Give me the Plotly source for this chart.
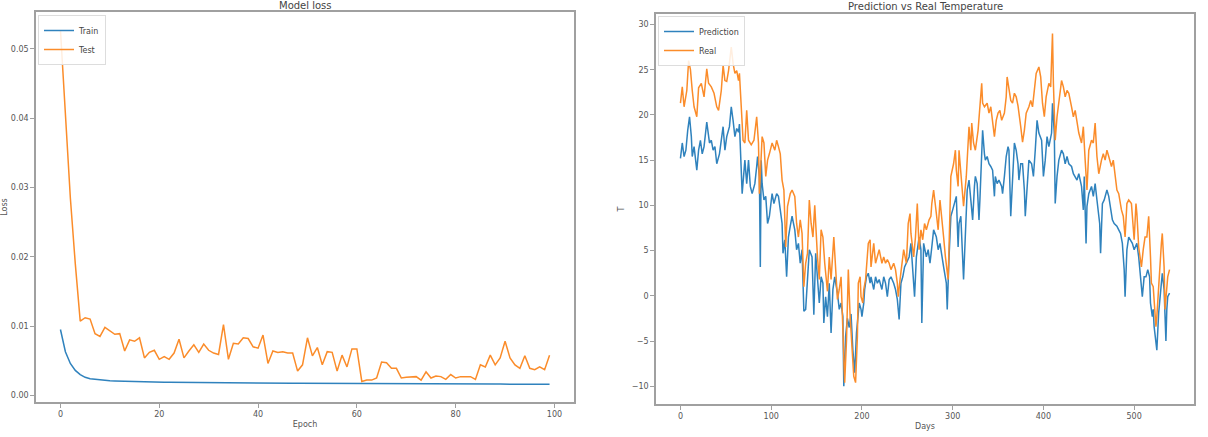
import plotly.graph_objects as go

# ---------------- data: left panel (Model loss) ----------------
epochs = list(range(100))
train_loss = [
    0.0095, 0.0063, 0.0046, 0.0036, 0.0030, 0.0026, 0.0024, 0.0023, 0.0022, 0.00215,
    0.0021, 0.00208, 0.00205, 0.00203, 0.00200, 0.00198, 0.00196, 0.00195, 0.00193, 0.00192,
    0.00190, 0.00189, 0.00188, 0.00187, 0.00186, 0.00185, 0.00184, 0.00184, 0.00183, 0.00182,
    0.00181, 0.00181, 0.00180, 0.00180, 0.00179, 0.00179, 0.00178, 0.00178, 0.00177, 0.00177,
    0.00176, 0.00176, 0.00175, 0.00175, 0.00175, 0.00174, 0.00174, 0.00173, 0.00173, 0.00173,
    0.00172, 0.00172, 0.00172, 0.00171, 0.00171, 0.00171, 0.00170, 0.00170, 0.00170, 0.00169,
    0.00169, 0.00169, 0.00168, 0.00168, 0.00168, 0.00168, 0.00167, 0.00167, 0.00167, 0.00167,
    0.00166, 0.00166, 0.00166, 0.00166, 0.00165, 0.00165, 0.00165, 0.00165, 0.00165, 0.00164,
    0.00164, 0.00164, 0.00164, 0.00164, 0.00163, 0.00163, 0.00163, 0.00163, 0.00163, 0.00162,
    0.00162, 0.00162, 0.00162, 0.00162, 0.00162, 0.00161, 0.00161, 0.00161, 0.00161, 0.00161,
]
test_loss = [
    0.0527, 0.0405, 0.0285, 0.0190, 0.0107, 0.0112, 0.0110, 0.0089, 0.0085, 0.0098,
    0.0093, 0.0088, 0.0089, 0.0064, 0.0080, 0.0078, 0.0083, 0.0054, 0.0062, 0.0065,
    0.0052, 0.0056, 0.0052, 0.0061, 0.0081, 0.0054, 0.0064, 0.0073, 0.0062, 0.0074,
    0.0065, 0.0061, 0.0059, 0.0102, 0.0052, 0.0075, 0.0074, 0.0083, 0.0082, 0.0070,
    0.0068, 0.0087, 0.0046, 0.0064, 0.0062, 0.0063, 0.0061, 0.0061, 0.0035, 0.0044,
    0.0083, 0.0057, 0.0069, 0.0044, 0.0063, 0.0062, 0.0035, 0.0058, 0.0041, 0.0067,
    0.0067, 0.0020, 0.0022, 0.0022, 0.0025, 0.0048, 0.0047, 0.0039, 0.0039, 0.0025,
    0.0026, 0.0027, 0.0027, 0.0022, 0.0034, 0.0025, 0.0028, 0.0027, 0.0023, 0.0030,
    0.0025, 0.0027, 0.0027, 0.0027, 0.0023, 0.0044, 0.0041, 0.0058, 0.0044, 0.0054,
    0.0078, 0.0054, 0.0044, 0.0039, 0.0057, 0.0039, 0.0037, 0.0041, 0.0037, 0.0058,
]
loss_xticks = [0, 20, 40, 60, 80, 100]
loss_yticks = [0.00, 0.01, 0.02, 0.03, 0.04, 0.05]

# ---------------- data: right panel (Prediction vs Real Temperature) ----------------
real_points = [
    (0, 21.3), (2, 23.1), (4, 20.9), (7, 22.7), (9, 26.0), (11, 25.0), (13, 22.7), (15, 20.9),
    (18, 19.8), (20, 23.0), (23, 23.5), (26, 22.0), (29, 25.1), (31, 23.5), (34, 23.1), (37, 22.4),
    (40, 20.9), (42, 20.5), (45, 22.7), (47, 25.5), (49, 23.8), (51, 23.7), (53, 24.9), (56, 27.5),
    (58, 25.7), (60, 24.6), (62, 24.9), (64, 23.8), (65, 24.6), (67, 20.2), (69, 17.2), (71, 16.9),
    (73, 20.5), (75, 17.2), (78, 16.7), (81, 17.2), (84, 19.8), (86, 16.9), (87, 11.3), (90, 17.6),
    (92, 16.9), (94, 13.2), (96, 15.0), (98, 15.7), (101, 16.9), (104, 16.1), (106, 17.2), (108, 16.5),
    (110, 15.7), (112, 12.8), (114, 11.7), (116, 5.4), (118, 9.9), (121, 11.3), (123, 11.7), (126, 11.0),
    (128, 8.0), (130, 6.5), (132, 8.4), (134, 6.9), (136, 1.0), (138, 3.6), (140, 4.7), (142, 10.6),
    (144, 8.0), (146, 6.5), (148, 10.0), (151, 4.3), (153, 1.8), (155, 7.3), (157, 6.5), (159, 3.6),
    (162, 0.5), (164, 4.3), (166, 1.8), (169, 6.5), (171, 3.2), (173, -0.4), (175, 0.7), (177, 2.1),
    (179, -3.8), (181, -9.6), (183, -4.9), (185, 2.9), (187, -2.3), (189, -6.0), (191, -8.9), (193, -9.6),
    (195, -4.5), (196, 1.4), (198, 2.1), (199, -0.1), (201, -0.8), (202, 0.7), (204, 1.8), (207, 5.8),
    (209, 6.2), (210, 3.2), (213, 5.8), (215, 3.6), (217, 4.3), (219, 5.1), (222, 3.6), (224, 4.3),
    (226, 3.6), (228, 4.0), (230, 3.6), (232, 2.9), (235, 3.6), (237, 2.9), (239, 1.4), (240, -0.1),
    (242, 1.8), (244, 3.6), (246, 5.1), (249, 3.6), (251, 8.0), (253, 9.1), (254, 6.9), (257, 4.3),
    (259, 6.5), (261, 10.2), (263, 5.1), (265, 7.3), (267, 6.2), (269, 8.0), (271, 7.3), (274, 8.4),
    (276, 8.8), (277, 10.2), (279, 11.7), (282, 9.1), (284, 7.3), (286, 10.6), (288, 8.8), (290, 6.5),
    (292, 4.3), (295, 1.8), (296, 5.4), (298, 13.2), (301, 14.6), (303, 16.1), (304, 13.9), (306, 12.1),
    (307, 16.1), (309, 13.2), (310, 11.7), (312, 9.9), (315, 13.2), (317, 16.1), (318, 18.7), (320, 16.1),
    (321, 19.1), (323, 16.9), (325, 16.1), (328, 18.3), (330, 20.5), (332, 23.5), (333, 21.3), (335, 20.9),
    (338, 21.3), (340, 20.2), (342, 20.9), (344, 19.1), (346, 17.6), (348, 19.4), (350, 20.2), (352, 20.5),
    (354, 19.4), (357, 20.2), (359, 22.0), (360, 24.2), (362, 22.7), (364, 21.6), (366, 21.3), (368, 22.4),
    (370, 22.0), (372, 21.0), (375, 18.7), (377, 17.0), (379, 18.3), (381, 20.2), (384, 20.9), (386, 21.6),
    (388, 20.9), (390, 22.7), (392, 24.6), (395, 25.3), (397, 24.2), (399, 21.3), (401, 19.8), (403, 22.0),
    (406, 23.5), (408, 23.1), (409, 27.2), (410, 29.0), (411, 23.5), (413, 17.2), (415, 19.8), (417, 21.6),
    (420, 23.8), (422, 23.1), (424, 22.0), (426, 22.7), (428, 22.4), (431, 20.9), (433, 19.8), (435, 20.5),
    (437, 19.4), (439, 18.0), (442, 16.9), (444, 18.7), (446, 15.0), (448, 11.7), (450, 16.1), (453, 17.2),
    (455, 16.9), (457, 19.1), (459, 15.4), (461, 13.5), (464, 15.0), (466, 15.7), (468, 15.0), (470, 16.1),
    (472, 15.4), (475, 14.3), (477, 15.0), (479, 13.2), (481, 11.7), (483, 11.3), (486, 9.5), (488, 8.8),
    (490, 6.5), (492, 10.2), (494, 10.6), (497, 10.2), (499, 8.0), (500, 6.2), (502, 10.2), (503, 9.1),
    (505, 5.4), (508, 3.2), (510, 5.1), (512, 6.5), (514, 6.5), (516, 8.8), (518, 4.3), (519, 1.4),
    (521, 1.0), (522, -0.8), (524, -3.4), (525, -2.3), (527, 1.4), (528, 3.2), (530, 5.8), (531, 6.9),
    (533, 3.2), (534, -1.5), (536, 0.7), (537, 2.1), (539, 2.9),
]
pred_points = [
    (0, 15.2), (2, 16.9), (4, 15.4), (6, 16.1), (8, 18.3), (10, 19.8), (12, 17.6), (13, 15.4),
    (15, 16.5), (18, 13.9), (20, 16.1), (22, 17.2), (24, 15.7), (26, 16.5), (29, 19.2), (32, 16.9),
    (34, 17.2), (36, 16.1), (38, 16.5), (40, 14.6), (43, 15.7), (45, 17.2), (47, 18.7), (49, 16.1),
    (51, 17.6), (54, 18.7), (56, 20.9), (58, 19.4), (60, 17.6), (62, 18.5), (64, 18.1), (65, 19.0),
    (67, 14.6), (68, 11.3), (71, 15.0), (73, 12.4), (75, 15.0), (77, 12.1), (79, 11.3), (82, 12.4),
    (84, 14.3), (85, 15.4), (87, 13.2), (88, 3.2), (89, 15.0), (90, 12.4), (92, 10.6), (94, 11.0),
    (96, 8.0), (98, 8.8), (101, 11.3), (103, 10.2), (106, 11.3), (108, 11.0), (110, 9.5), (112, 8.0),
    (113, 4.7), (115, 6.2), (117, 2.1), (119, 6.5), (121, 7.7), (123, 8.8), (126, 7.3), (128, 5.1),
    (130, 5.8), (132, 3.6), (134, 5.1), (136, -1.7), (138, -1.5), (140, 1.4), (142, 5.1), (145, 4.3),
    (147, -2.1), (149, 4.7), (151, 1.4), (153, -0.8), (155, 2.1), (157, 1.4), (158, -3.0), (160, -0.1),
    (162, -2.3), (164, 1.4), (166, -4.1), (168, 0.7), (170, 2.1), (173, 0.3), (175, -1.5), (177, -0.8),
    (179, -2.3), (180, -10.0), (182, -4.5), (184, -2.5), (186, -3.5), (188, -2.0), (190, -6.0), (192, -8.5),
    (194, -4.1), (196, -1.9), (197, -0.8), (199, -1.5), (200, -2.3), (202, -0.8), (203, 0.7), (205, 2.1),
    (207, 2.5), (209, 1.4), (210, 2.1), (213, 0.7), (215, 2.1), (217, 1.4), (219, 1.8), (222, 0.7),
    (224, 2.1), (226, 1.4), (228, -0.1), (230, 1.8), (232, 2.1), (235, 1.4), (237, 0.7), (239, -0.4),
    (241, -2.6), (243, 1.4), (245, 2.1), (247, 3.2), (249, 3.6), (252, 4.3), (254, 5.8), (256, 3.2),
    (258, -0.1), (260, 4.3), (263, 6.5), (265, 5.1), (266, -3.0), (268, 5.8), (271, 4.3), (273, 5.1),
    (275, 3.6), (277, 5.4), (279, 7.3), (282, 6.5), (284, 5.1), (286, 5.8), (288, 4.3), (290, 3.2),
    (293, 1.4), (294, -1.5), (296, 4.3), (298, 8.8), (300, 9.5), (302, 10.2), (304, 11.0), (306, 5.4),
    (307, 8.0), (309, 8.8), (310, 6.5), (312, 1.8), (313, 4.3), (315, 8.8), (316, 11.7), (318, 12.8),
    (319, 11.7), (321, 8.8), (322, 8.4), (324, 12.1), (325, 13.2), (327, 12.4), (329, 8.4), (330, 10.6),
    (332, 15.4), (333, 18.3), (335, 15.7), (336, 15.0), (338, 15.4), (340, 14.6), (342, 14.3), (344, 13.9),
    (346, 11.0), (347, 13.2), (349, 12.4), (351, 12.8), (354, 12.1), (355, 11.3), (357, 13.2), (359, 15.4),
    (361, 16.5), (362, 16.1), (364, 8.8), (367, 16.1), (368, 16.9), (370, 16.1), (372, 14.6), (373, 12.8),
    (375, 14.6), (377, 14.6), (379, 11.7), (380, 8.8), (382, 12.1), (384, 15.0), (387, 14.6), (389, 13.2),
    (391, 16.1), (393, 19.4), (395, 18.0), (398, 17.2), (400, 13.2), (402, 15.0), (404, 17.6), (406, 16.5),
    (409, 18.0), (410, 21.3), (412, 18.0), (413, 10.2), (415, 13.2), (417, 15.0), (420, 16.1), (422, 15.7),
    (424, 14.6), (426, 15.4), (428, 14.6), (431, 14.3), (433, 13.5), (435, 13.2), (437, 12.8), (439, 13.5),
    (442, 12.1), (444, 9.5), (445, 13.2), (447, 5.8), (448, 9.9), (450, 11.3), (453, 12.1), (455, 11.0),
    (457, 12.4), (459, 10.6), (462, 8.0), (463, 4.7), (465, 10.2), (467, 10.6), (470, 11.7), (472, 11.0),
    (474, 9.5), (476, 8.4), (478, 8.0), (481, 7.7), (483, 7.3), (485, 6.9), (487, 5.8), (489, 2.9),
    (490, -0.1), (492, 5.1), (494, 6.5), (496, 6.2), (498, 5.8), (500, 5.1), (503, 5.8), (505, 4.3),
    (507, 2.1), (509, -0.1), (511, 2.1), (513, 2.1), (515, 2.9), (517, 2.1), (518, -0.8), (520, -2.3),
    (521, -1.5), (522, -3.4), (525, -6.0), (526, -2.6), (527, -1.9), (528, -0.8), (530, 1.4), (531, 2.5),
    (533, 0.7), (535, -5.0), (536, -1.5), (537, -0.1), (539, 0.3),
]
real_days = [p[0] for p in real_points]
real_temp = [p[1] for p in real_points]
pred_days = [p[0] for p in pred_points]
pred_temp = [p[1] for p in pred_points]
temp_xticks = [0, 100, 200, 300, 400, 500]
temp_yticks = [-10, -5, 0, 5, 10, 15, 20, 25, 30]

# ---------------- styling ----------------
W, H = 1208, 437
BLUE = "#2f82bd"
ORANGE = "#fb8c2a"
FRAME = "#a0a0a0"
TXT = "#555555"
FONT = "DejaVu Sans"

def px_x(p):
    return p / W

def px_y(p):
    return 1 - p / H

fig = go.Figure()

fig.add_trace(go.Scatter(x=epochs, y=train_loss, mode="lines", name="Train",
                         line=dict(color=BLUE, width=1.5), xaxis="x", yaxis="y", legend="legend"))
fig.add_trace(go.Scatter(x=epochs, y=test_loss, mode="lines", name="Test",
                         line=dict(color=ORANGE, width=1.5), xaxis="x", yaxis="y", legend="legend"))
fig.add_trace(go.Scatter(x=pred_days, y=pred_temp, mode="lines", name="Prediction",
                         line=dict(color=BLUE, width=1.5), xaxis="x2", yaxis="y2", legend="legend2"))
fig.add_trace(go.Scatter(x=real_days, y=real_temp, mode="lines", name="Real",
                         line=dict(color=ORANGE, width=1.5), xaxis="x2", yaxis="y2", legend="legend2"))

axis_common = dict(showgrid=False, zeroline=False, showline=True, mirror=True,
                   linecolor=FRAME, linewidth=1.5, ticks="outside", ticklen=4,
                   tickwidth=1, tickcolor=FRAME,
                   tickfont=dict(family=FONT, size=8, color=TXT))

fig.update_layout(
    width=W, height=H, autosize=False,
    margin=dict(l=0, r=0, t=0, b=0),
    paper_bgcolor="white", plot_bgcolor="white",
    font=dict(family=FONT, color=TXT),
    xaxis=dict(axis_common, domain=[px_x(36), px_x(574)], range=[-4.95, 103.95],
               tickvals=loss_xticks, anchor="y",
               title=dict(text="Epoch", font=dict(size=8, color=TXT), standoff=3)),
    yaxis=dict(axis_common, domain=[px_y(402), px_y(12)], range=[-0.00096, 0.0553],
               tickvals=loss_yticks, tickformat=".2f", anchor="x",
               title=dict(text="Loss", font=dict(size=8, color=TXT), standoff=3)),
    xaxis2=dict(axis_common, domain=[px_x(656), px_x(1194)], range=[-26.95, 565.95],
                tickvals=temp_xticks, anchor="y2",
                title=dict(text="Days", font=dict(size=8, color=TXT), standoff=3)),
    yaxis2=dict(axis_common, domain=[px_y(404), px_y(14)], range=[-11.96, 31.16],
                tickvals=temp_yticks, anchor="x2",
                title=dict(text="T", font=dict(size=8, color=TXT), standoff=6)),
    legend=dict(x=px_x(38), y=px_y(15), xanchor="left", yanchor="top",
                bgcolor="rgba(255,255,255,0.85)", bordercolor="#dddddd", borderwidth=1,
                font=dict(family=FONT, size=8, color="#444444"), tracegroupgap=0,
                itemwidth=30),
    legend2=dict(x=px_x(658), y=px_y(16), xanchor="left", yanchor="top",
                 bgcolor="rgba(255,255,255,0.85)", bordercolor="#dddddd", borderwidth=1,
                 font=dict(family=FONT, size=8, color="#444444"), tracegroupgap=0,
                 itemwidth=30),
    showlegend=True,
    annotations=[
        dict(text="Model loss", xref="paper", yref="paper", x=px_x(305), y=px_y(6),
             xanchor="center", yanchor="middle", showarrow=False,
             font=dict(family=FONT, size=10, color="#444444")),
        dict(text="Prediction vs Real Temperature", xref="paper", yref="paper",
             x=px_x(925), y=px_y(6.5), xanchor="center", yanchor="middle", showarrow=False,
             font=dict(family=FONT, size=10, color="#444444")),
    ],
)

fig.write_html("out.html")
